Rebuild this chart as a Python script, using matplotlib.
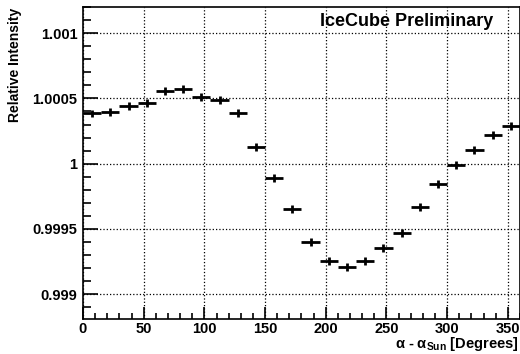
import matplotlib
matplotlib.use('Agg')
import matplotlib.pyplot as plt
from matplotlib.ticker import MultipleLocator

# Datos
bin_centers = [7.5, 22.5, 37.5, 52.5, 67.5, 82.5, 97.5, 112.5, 127.5, 142.5, 157.5, 172.5,
               187.5, 202.5, 217.5, 232.5, 247.5, 262.5, 277.5, 292.5, 307.5, 322.5, 337.5, 352.5]
intensity = [1.000385, 1.000398, 1.000444, 1.000467, 1.000559, 1.000572, 1.000511, 1.000488,
             1.000391, 1.000125, 0.999893, 0.999655, 0.999400, 0.999252, 0.999209, 0.999257,
             0.999351, 0.999469, 0.999671, 0.999847, 0.999992, 1.000105, 1.000217, 1.000286]
half_width = 7.5
y_err = 0.00003

plt.rcParams['font.family'] = ['Liberation Sans', 'DejaVu Sans']
plt.rcParams['font.weight'] = 'bold'
plt.rcParams['mathtext.fontset'] = 'custom'
plt.rcParams['mathtext.rm'] = 'Liberation Sans:bold'
plt.rcParams['mathtext.it'] = 'Liberation Sans:bold'

fig = plt.figure(figsize=(5.2, 3.54), dpi=100)
ax = fig.add_axes([0.1596, 0.0989, 0.8404, 0.8811])

ax.errorbar(bin_centers, intensity, xerr=half_width, yerr=y_err, fmt='none',
            ecolor='black', elinewidth=2, capsize=0)

ax.set_xlim(0, 360)
ax.set_ylim(0.99881, 1.0012)

ax.xaxis.set_major_locator(MultipleLocator(50))
ax.xaxis.set_minor_locator(MultipleLocator(10))
ax.yaxis.set_major_locator(MultipleLocator(0.0005))
ax.yaxis.set_minor_locator(MultipleLocator(0.0001))
ax.set_yticks([0.999, 0.9995, 1.0, 1.0005, 1.001])
ax.set_yticklabels(['0.999', '0.9995', '1', '1.0005', '1.001'])

ax.tick_params(which='both', direction='in', top=False, right=False,
               labelsize=10.5, width=1.2, pad=4)
ax.tick_params(which='major', length=11)
ax.tick_params(which='minor', length=6)
ax.tick_params(axis='x', which='major', length=9, pad=2)
ax.tick_params(axis='x', which='minor', length=4.5)

ax.grid(True, which='major', linestyle=':', color='black', linewidth=0.9)

for s in ax.spines.values():
    s.set_linewidth(1.2)

fig.text(0.998, 0.002, r'$\mathregular{\alpha}$ - $\mathregular{\alpha_{Sun}}$ [Degrees]',
         ha='right', va='bottom', fontsize=10.5, fontweight='bold')
fig.text(0.028, 0.977, 'Relative Intensity', rotation=90, ha='center', va='top',
         fontsize=10, fontweight='bold')
fig.text(0.948, 0.94, 'IceCube Preliminary', ha='right', va='center',
         fontsize=13, fontweight='bold')

fig.savefig('out.png', dpi=100)
